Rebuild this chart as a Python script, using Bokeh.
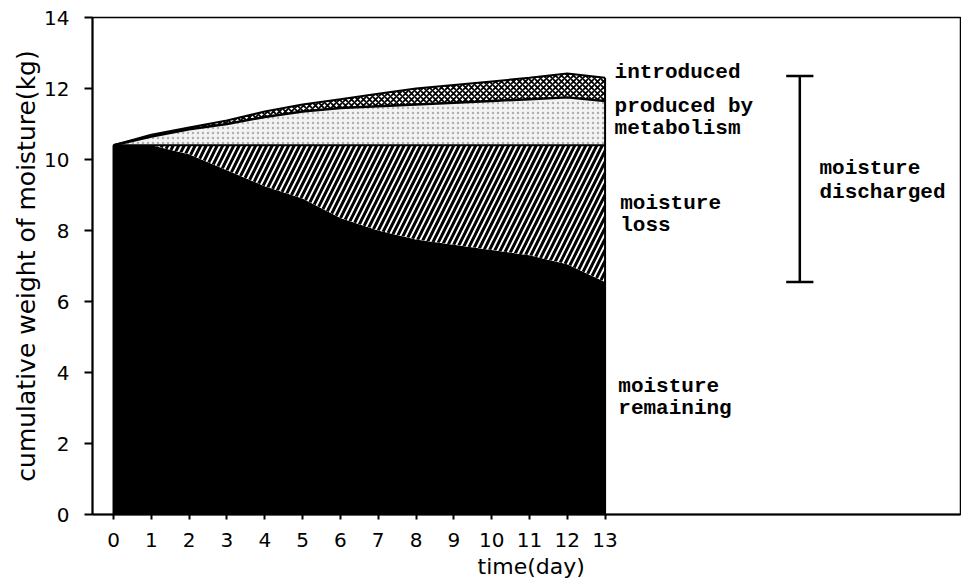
from bokeh.plotting import figure
from bokeh.models import Range1d, FixedTicker, Title
from bokeh.core.properties import value
from bokeh.embed import file_html
from bokeh.resources import INLINE

# ---- data ----
days = [0, 1, 2, 3, 4, 5, 6, 7, 8, 9, 10, 11, 12, 13]
remaining = [10.4, 10.4, 10.15, 9.7, 9.25, 8.9, 8.35, 8.0, 7.75, 7.6, 7.45, 7.3, 7.05, 6.55]
initial = [10.4] * 14
with_metabolism = [10.4, 10.65, 10.85, 11.0, 11.2, 11.35, 11.45, 11.5, 11.55, 11.6, 11.65, 11.7, 11.75, 11.65]
with_introduced = [10.4, 10.7, 10.9, 11.1, 11.35, 11.55, 11.7, 11.85, 12.0, 12.1, 12.2, 12.3, 12.42, 12.3]
y_ticks = [0, 2, 4, 6, 8, 10, 12, 14]
x_ticks = days

p = figure(width=961, height=580, output_backend="svg", toolbar_location=None,
           x_range=Range1d(-0.556, 22.40), y_range=Range1d(0, 14),
           min_border_left=92, min_border_right=1, min_border_top=17, min_border_bottom=66)
p.background_fill_color = "white"
p.border_fill_color = "white"
p.outline_line_color = "black"
p.outline_line_width = 1.5
p.xgrid.visible = False
p.ygrid.visible = False

for ax in (p.xaxis[0], p.yaxis[0]):
    ax.axis_line_width = 2
    ax.axis_line_color = "black"
    ax.major_tick_line_width = 2
    ax.major_tick_in = 0
    ax.minor_tick_line_color = None
    ax.major_label_text_font = "DejaVu Sans"
    ax.major_label_text_font_size = "20px"
    ax.major_label_text_color = "black"
p.yaxis[0].ticker = FixedTicker(ticks=y_ticks)
p.yaxis[0].major_tick_out = 8
p.yaxis[0].major_label_standoff = 15
p.yaxis[0].axis_label = "cumulative weight of moisture(kg)"
p.yaxis[0].axis_label_text_font = "DejaVu Sans"
p.yaxis[0].axis_label_text_font_size = "25px"
p.yaxis[0].axis_label_text_font_style = "normal"
p.yaxis[0].axis_label_text_color = "black"
p.yaxis[0].axis_label_standoff = 0
p.xaxis[0].ticker = FixedTicker(ticks=x_ticks)
p.xaxis[0].major_tick_out = 5
p.xaxis[0].major_label_standoff = 13

p.add_layout(Title(text="time(day)", align="left", offset=385, standoff=4,
                   text_font="DejaVu Sans", text_font_size="22px", text_font_style="normal",
                   text_color="black"), "below")

# areas
p.varea(x=days, y1=[0] * 14, y2=remaining, fill_color="black")
p.varea(x=days, y1=remaining, y2=initial, fill_color="white",
        hatch_pattern="right_diagonal_line", hatch_color="black",
        hatch_scale=11, hatch_weight=3)
p.varea(x=days, y1=initial, y2=with_metabolism, fill_color="#f3f3f3",
        hatch_pattern="dot", hatch_color="#b0b0b0", hatch_scale=5, hatch_weight=0.6)
p.varea(x=days, y1=with_metabolism, y2=with_introduced, fill_color="white",
        hatch_pattern="diagonal_cross", hatch_color="black",
        hatch_scale=6, hatch_weight=1.8)

# boundary lines
p.line(days, initial, line_color="black", line_width=2)
p.line(days, with_metabolism, line_color="black", line_width=2.5)
p.line(days, with_introduced, line_color="black", line_width=2)
p.segment(x0=[days[0], days[-1]], y0=[0, 0], x1=[days[0], days[-1]],
          y1=[remaining[0], with_introduced[-1]], line_color="black", line_width=2)

# moisture discharged bar
bx = 18.15
top = with_introduced[-1] + 0.05
p.segment(x0=[bx, bx - 0.36, bx - 0.36], y0=[remaining[-1], remaining[-1], top],
          x1=[bx, bx + 0.36, bx + 0.36], y1=[top, remaining[-1], top],
          line_color="black", line_width=2.5)

mono = value("Liberation Mono")
labels_x = [13.25, 13.25, 13.25, 13.4, 13.4, 18.67, 18.67, 13.35, 13.35]
labels_y = [12.45, 11.49, 10.87, 8.76, 8.14, 9.74, 9.07, 3.6, 2.98]
labels_t = ["introduced", "produced by", "metabolism", "moisture", "loss",
            "moisture", "discharged", "moisture", "remaining"]
p.text(x=labels_x, y=labels_y, text=labels_t, text_font=mono, text_font_size="21px",
       text_font_style="bold", text_align="left", text_baseline="middle", text_color="black")

open("out.html", "w").write(file_html(p, INLINE))
